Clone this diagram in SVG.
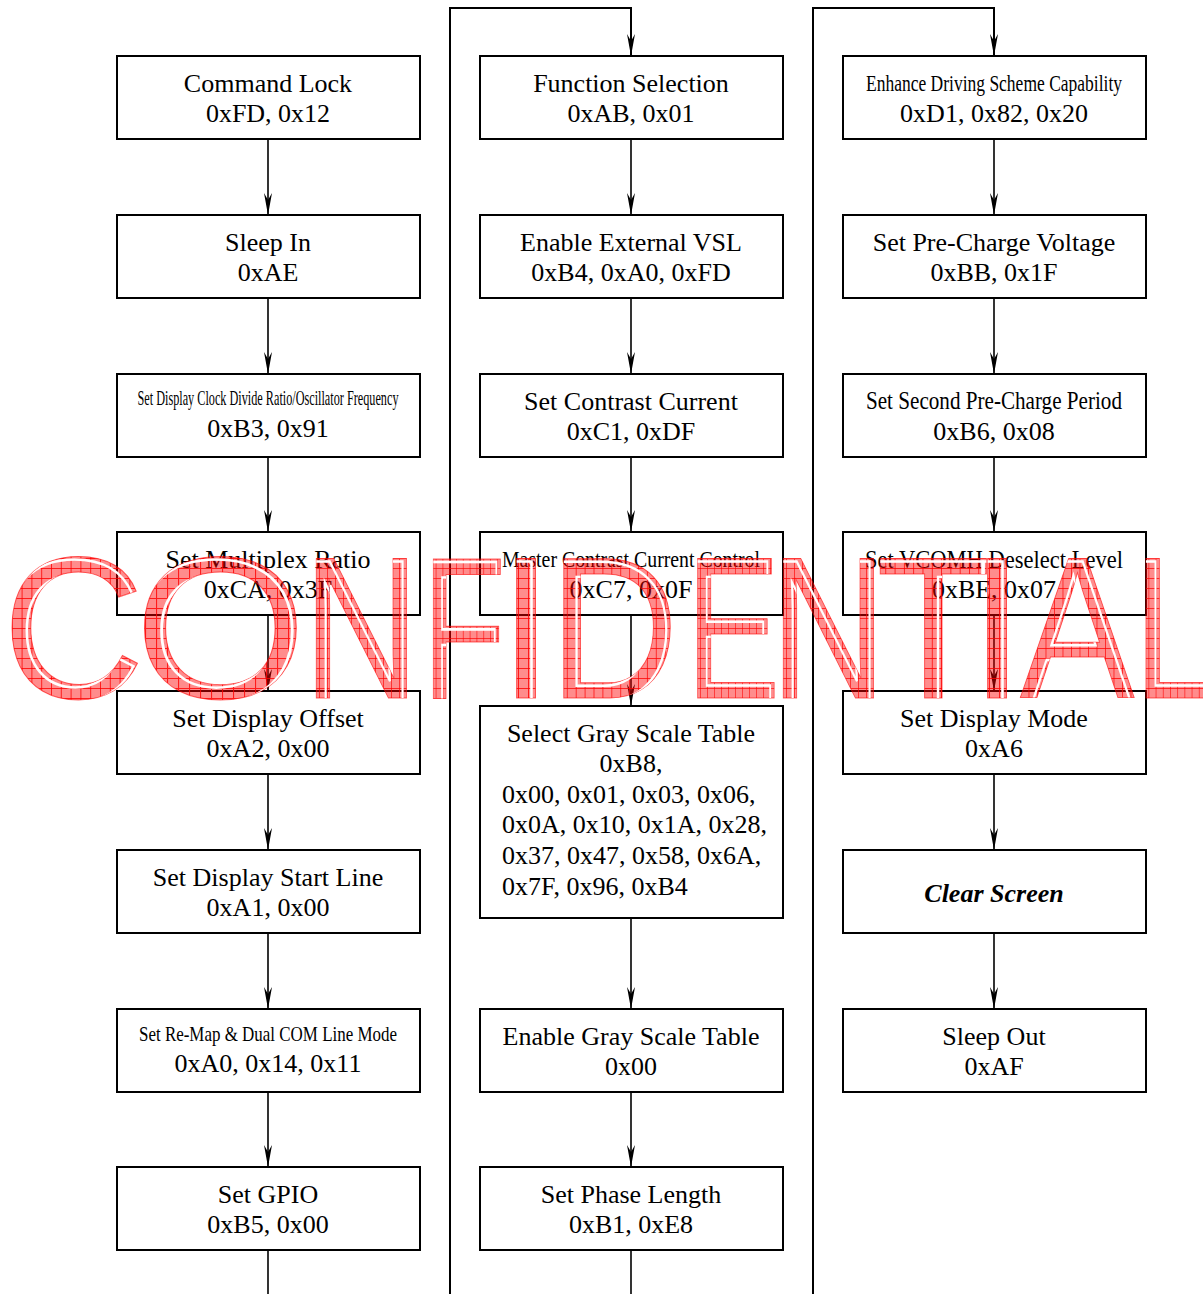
<svg xmlns="http://www.w3.org/2000/svg" xmlns:xlink="http://www.w3.org/1999/xlink" width="1203" height="1294" viewBox="0 0 1203 1294">
<style>
.box{fill:#fff;stroke:#000;stroke-width:2}
.t{font-family:"Liberation Serif","Times New Roman",serif;font-size:26px;text-anchor:middle;fill:#000}
.l{text-anchor:start}
.bi{font-weight:bold;font-style:italic}
.ln{fill:none;stroke:#000;stroke-width:1.6}
.feed{fill:none;stroke:#000;stroke-width:2}
.wm{font-family:"Liberation Sans",Arial,sans-serif;font-size:202px}
</style>
<defs>
<marker id="ah" markerUnits="userSpaceOnUse" viewBox="-23 -5 24 10" refX="0" refY="0" markerWidth="24" markerHeight="10" orient="auto">
<path d="M0,0 L-22,-4 L-15,0 L-22,4 Z" fill="#000"/>
</marker>
<pattern id="hatch" patternUnits="userSpaceOnUse" width="10" height="10">
<rect width="10" height="10" fill="#ff0000" fill-opacity="0.45"/>
<path d="M0,0.5 H10 M0.5,0 V10" stroke="#ff0000" stroke-opacity="0.8" stroke-width="1"/>
</pattern>
<g id="wm-letters">
<text class="wm" transform="translate(2,698) scale(0.98,1)">C</text>
<text class="wm" transform="translate(134,698) scale(1.1,1)">O</text>
<text class="wm" transform="translate(303,698) scale(0.8,1)">N</text>
<text class="wm" transform="translate(422,698) scale(0.68,1)">F</text>
<text class="wm" transform="translate(498,698)">I</text>
<text class="wm" transform="translate(549,698) scale(0.89,1)">D</text>
<text class="wm" transform="translate(686,698) scale(0.7,1)">E</text>
<text class="wm" transform="translate(770,698) scale(0.8,1)">N</text>
<text class="wm" transform="translate(876,698) scale(0.93,1)">T</text>
<text class="wm" transform="translate(969,698)">I</text>
<text class="wm" transform="translate(1020,698) scale(0.85,1)">A</text>
<text class="wm" transform="translate(1134,698) scale(0.72,1)">L</text>
</g>
<clipPath id="wmclip">
<text class="wm" transform="translate(2,698) scale(0.98,1)">C</text>
<text class="wm" transform="translate(134,698) scale(1.1,1)">O</text>
<text class="wm" transform="translate(303,698) scale(0.8,1)">N</text>
<text class="wm" transform="translate(422,698) scale(0.68,1)">F</text>
<text class="wm" transform="translate(498,698)">I</text>
<text class="wm" transform="translate(549,698) scale(0.89,1)">D</text>
<text class="wm" transform="translate(686,698) scale(0.7,1)">E</text>
<text class="wm" transform="translate(770,698) scale(0.8,1)">N</text>
<text class="wm" transform="translate(876,698) scale(0.93,1)">T</text>
<text class="wm" transform="translate(969,698)">I</text>
<text class="wm" transform="translate(1020,698) scale(0.85,1)">A</text>
<text class="wm" transform="translate(1134,698) scale(0.72,1)">L</text>
</clipPath>
</defs>

<g id="connectors">
<path class="feed" d="M450,1294 V8 H631 V56" marker-end="url(#ah)"/>
<path class="feed" d="M813,1294 V8 H994 V56" marker-end="url(#ah)"/>
<path class="ln" d="M268,139 V215" marker-end="url(#ah)"/>
<path class="ln" d="M268,298 V374" marker-end="url(#ah)"/>
<path class="ln" d="M268,457 V532" marker-end="url(#ah)"/>
<path class="ln" d="M268,615 V691" marker-end="url(#ah)"/>
<path class="ln" d="M268,774 V850" marker-end="url(#ah)"/>
<path class="ln" d="M268,933 V1009" marker-end="url(#ah)"/>
<path class="ln" d="M268,1092 V1167" marker-end="url(#ah)"/>
<path class="ln" d="M268,1250 V1294"/>
<path class="ln" d="M631,139 V215" marker-end="url(#ah)"/>
<path class="ln" d="M631,298 V374" marker-end="url(#ah)"/>
<path class="ln" d="M631,457 V532" marker-end="url(#ah)"/>
<path class="ln" d="M631,615 V706" marker-end="url(#ah)"/>
<path class="ln" d="M631,918 V1009" marker-end="url(#ah)"/>
<path class="ln" d="M631,1092 V1167" marker-end="url(#ah)"/>
<path class="ln" d="M631,1250 V1294"/>
<path class="ln" d="M994,139 V215" marker-end="url(#ah)"/>
<path class="ln" d="M994,298 V374" marker-end="url(#ah)"/>
<path class="ln" d="M994,457 V532" marker-end="url(#ah)"/>
<path class="ln" d="M994,615 V691" marker-end="url(#ah)"/>
<path class="ln" d="M994,774 V850" marker-end="url(#ah)"/>
<path class="ln" d="M994,933 V1009" marker-end="url(#ah)"/>
</g>

<g id="n-command-lock"><rect class="box" x="117" y="56" width="303" height="83"/>
<text class="t" x="268" y="92">Command Lock</text><text class="t" x="268" y="122">0xFD, 0x12</text></g>
<g id="n-sleep-in"><rect class="box" x="117" y="215" width="303" height="83"/>
<text class="t" x="268" y="251">Sleep In</text><text class="t" x="268" y="281">0xAE</text></g>
<g id="n-clock"><rect class="box" x="117" y="374" width="303" height="83"/>
<text class="t" x="268" y="405" style="font-size:21px" textLength="261" lengthAdjust="spacingAndGlyphs">Set Display Clock Divide Ratio/Oscillator Frequency</text><text class="t" x="268" y="437">0xB3, 0x91</text></g>
<g id="n-mux"><rect class="box" x="117" y="532" width="303" height="83"/>
<text class="t" x="268" y="568">Set Multiplex Ratio</text><text class="t" x="268" y="598">0xCA, 0x3F</text></g>
<g id="n-offset"><rect class="box" x="117" y="691" width="303" height="83"/>
<text class="t" x="268" y="727">Set Display Offset</text><text class="t" x="268" y="757">0xA2, 0x00</text></g>
<g id="n-start-line"><rect class="box" x="117" y="850" width="303" height="83"/>
<text class="t" x="268" y="886">Set Display Start Line</text><text class="t" x="268" y="916">0xA1, 0x00</text></g>
<g id="n-remap"><rect class="box" x="117" y="1009" width="303" height="83"/>
<text class="t" x="268" y="1041" style="font-size:22px" textLength="258" lengthAdjust="spacingAndGlyphs">Set Re-Map &amp; Dual COM Line Mode</text><text class="t" x="268" y="1072">0xA0, 0x14, 0x11</text></g>
<g id="n-gpio"><rect class="box" x="117" y="1167" width="303" height="83"/>
<text class="t" x="268" y="1203">Set GPIO</text><text class="t" x="268" y="1233">0xB5, 0x00</text></g>

<g id="n-function"><rect class="box" x="480" y="56" width="303" height="83"/>
<text class="t" x="631" y="92">Function Selection</text><text class="t" x="631" y="122">0xAB, 0x01</text></g>
<g id="n-vsl"><rect class="box" x="480" y="215" width="303" height="83"/>
<text class="t" x="631" y="251">Enable External VSL</text><text class="t" x="631" y="281">0xB4, 0xA0, 0xFD</text></g>
<g id="n-contrast"><rect class="box" x="480" y="374" width="303" height="83"/>
<text class="t" x="631" y="410">Set Contrast Current</text><text class="t" x="631" y="440">0xC1, 0xDF</text></g>
<g id="n-master"><rect class="box" x="480" y="532" width="303" height="83"/>
<text class="t" x="631" y="567" style="font-size:24px" textLength="258" lengthAdjust="spacingAndGlyphs">Master Contrast Current Control</text><text class="t" x="631" y="598">0xC7, 0x0F</text></g>
<g id="n-gray"><rect class="box" x="480" y="706" width="303" height="212"/>
<text class="t" x="631" y="742">Select Gray Scale Table</text><text class="t" x="631" y="772">0xB8,</text>
<text class="t l" x="502" y="803">0x00, 0x01, 0x03, 0x06,</text>
<text class="t l" x="502" y="833">0x0A, 0x10, 0x1A, 0x28,</text>
<text class="t l" x="502" y="864">0x37, 0x47, 0x58, 0x6A,</text>
<text class="t l" x="502" y="895">0x7F, 0x96, 0xB4</text></g>
<g id="n-enable-gray"><rect class="box" x="480" y="1009" width="303" height="83"/>
<text class="t" x="631" y="1045">Enable Gray Scale Table</text><text class="t" x="631" y="1075">0x00</text></g>
<g id="n-phase"><rect class="box" x="480" y="1167" width="303" height="83"/>
<text class="t" x="631" y="1203">Set Phase Length</text><text class="t" x="631" y="1233">0xB1, 0xE8</text></g>

<g id="n-enhance"><rect class="box" x="843" y="56" width="303" height="83"/>
<text class="t" x="994" y="91" style="font-size:24px" textLength="256" lengthAdjust="spacingAndGlyphs">Enhance Driving Scheme Capability</text><text class="t" x="994" y="122">0xD1, 0x82, 0x20</text></g>
<g id="n-precharge"><rect class="box" x="843" y="215" width="303" height="83"/>
<text class="t" x="994" y="251">Set Pre-Charge Voltage</text><text class="t" x="994" y="281">0xBB, 0x1F</text></g>
<g id="n-second"><rect class="box" x="843" y="374" width="303" height="83"/>
<text class="t" x="994" y="409" style="font-size:25px" textLength="256" lengthAdjust="spacingAndGlyphs">Set Second Pre-Charge Period</text><text class="t" x="994" y="440">0xB6, 0x08</text></g>
<g id="n-vcomh"><rect class="box" x="843" y="532" width="303" height="83"/>
<text class="t" x="994" y="568" textLength="258" lengthAdjust="spacingAndGlyphs">Set VCOMH Deselect Level</text><text class="t" x="994" y="598">0xBE, 0x07</text></g>
<g id="n-mode"><rect class="box" x="843" y="691" width="303" height="83"/>
<text class="t" x="994" y="727">Set Display Mode</text><text class="t" x="994" y="757">0xA6</text></g>
<g id="n-clear"><rect class="box" x="843" y="850" width="303" height="83"/>
<text class="t bi" x="994" y="902">Clear Screen</text></g>
<g id="n-sleep-out"><rect class="box" x="843" y="1009" width="303" height="83"/>
<text class="t" x="994" y="1045">Sleep Out</text><text class="t" x="994" y="1075">0xAF</text></g>

<g id="watermark">
<use xlink:href="#wm-letters" href="#wm-letters" fill="url(#hatch)" stroke="#ff0000" stroke-opacity="0.6" stroke-width="1"/>
<g clip-path="url(#wmclip)">
<use xlink:href="#wm-letters" href="#wm-letters" transform="translate(-4,3)" fill="none" stroke="#fff" stroke-width="2.5"/>
</g>
</g>
</svg>
